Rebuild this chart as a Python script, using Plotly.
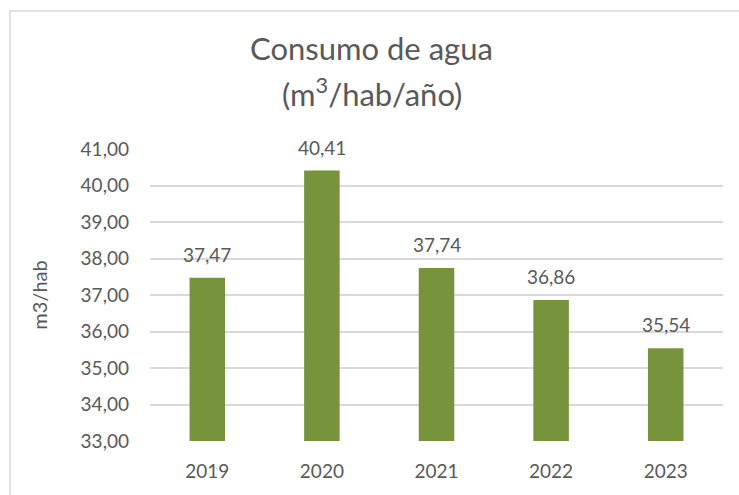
import plotly.graph_objects as go

# Annual water consumption per inhabitant
years = ["2019", "2020", "2021", "2022", "2023"]
consumo = [37.47, 40.41, 37.74, 36.86, 35.54]
y_ticks = [33, 34, 35, 36, 37, 38, 39, 40, 41]

FONT = "Lato"
GREY = "#595959"


def fmt(v):
    return f"{v:.2f}".replace(".", ",")


fig = go.Figure(
    go.Bar(
        x=years,
        y=consumo,
        marker=dict(color="#77933C", line=dict(width=0)),
        width=0.31,
        hovertemplate="%{x}: %{y:.2f}<extra></extra>",
    )
)

# value labels sitting above each bar (category index on the x axis)
value_labels = [
    dict(text=fmt(v), x=i, y=v, xref="x", yref="y",
         xanchor="center", yanchor="bottom", showarrow=False, yshift=10,
         font=dict(family=FONT, size=19, color=GREY))
    for i, v in enumerate(consumo)
]

title_lines = [
    dict(text="Consumo de agua", x=0.387, y=1.0, xref="paper", yref="paper",
         xanchor="center", yanchor="middle", showarrow=False,
         yshift=441 - 48 - 292, font=dict(family=FONT, size=31, color=GREY)),
    dict(text="(m<sup>3</sup>/hab/año)",
         x=0.387, y=1.0, xref="paper", yref="paper",
         xanchor="center", yanchor="middle", showarrow=False,
         yshift=441 - 92 - 292, font=dict(family=FONT, size=31, color=GREY)),
]

fig.update_layout(
    width=739,
    height=495,
    margin=dict(l=150, r=16, t=149, b=54),
    paper_bgcolor="white",
    plot_bgcolor="white",
    separators=",.",
    showlegend=False,
    font=dict(family=FONT, color=GREY),
    annotations=title_lines + value_labels,
    shapes=[
        dict(type="rect", xref="paper", yref="paper",
             x0=-0.2443, x1=1.5, y0=-1.0, y1=1.4726,
             line=dict(color="#D9D9D9", width=1.5), fillcolor="rgba(0,0,0,0)",
             layer="below"),
    ],
)

fig.update_xaxes(
    type="category",
    categoryorder="array",
    categoryarray=years,
    range=[-0.5, len(years) - 0.5],
    showgrid=False,
    showline=False,
    ticks="",
    tickfont=dict(family=FONT, size=19, color=GREY),
    ticklabelstandoff=17,
)

fig.update_yaxes(
    range=[33, 41],
    tickvals=y_ticks,
    tickformat=".2f",
    showgrid=True,
    gridcolor="#D9D9D9",
    gridwidth=1.5,
    zeroline=False,
    showline=False,
    ticks="",
    tickfont=dict(family=FONT, size=19, color=GREY),
    ticklabelstandoff=20,
    title=dict(text="m3/hab", font=dict(family=FONT, size=20, color=GREY), standoff=27),
)

fig.write_html("out.html")
